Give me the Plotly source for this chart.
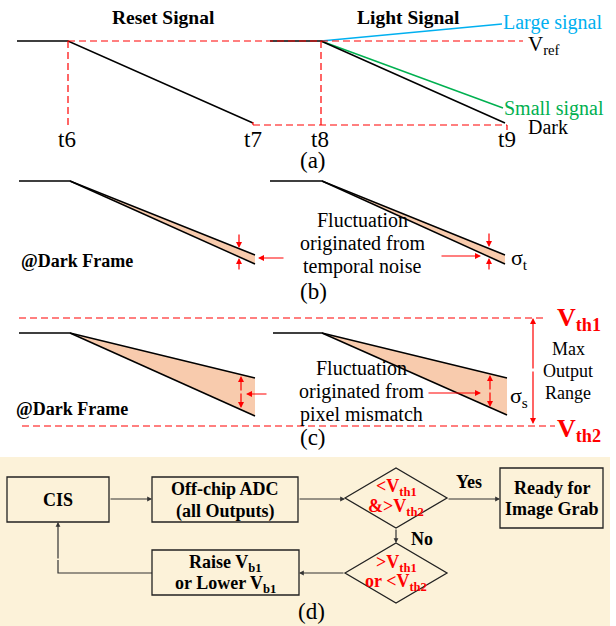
import plotly.graph_objects as go

W, H = 616, 626
SERIF = "Liberation Serif"
RED = "#ff0000"
BLUE = "#00b0f0"
GREEN = "#00b050"
PEACH = "#f8cbad"
BEIGE = "#fcf2d9"

# ---- panel (a): reset / light signal ramps (x = time, y = level, screen units) ----
reset_x = [17, 68, 253]
reset_y = [41, 41, 123]
light_flat_x = [270, 321]
light_flat_y = [41, 41]
dark_x = [321, 505]
dark_y = [41, 123]
small_x = [321, 503]
small_y = [41, 108]
large_x = [321, 502]
large_y = [41, 24]
time_labels = ["t6", "t7", "t8", "t9"]
time_pos = [67, 253, 320, 507]
vref_level = 41
ramp_end_level = 125

# ---- panel (b): temporal-noise spread (start point, end x, end top/bottom) ----
b_left = dict(x0=19, xk=70, y0=181, xe=255, top=255, bot=264)
b_right = dict(x0=270, xk=322, y0=181, xe=505, top=255, bot=264)

# ---- panel (c): pixel-mismatch spread ----
c_left = dict(x0=19, xk=70, y0=333, xe=255, top=378, bot=416)
c_right = dict(x0=273, xk=322, y0=333, xe=507, top=378, bot=415)
vth1_level = 318
vth2_level = 426

fig = go.Figure()
shapes = []
ann = []


def line(xs, ys, color="black", width=1.5):
    fig.add_trace(go.Scatter(x=xs, y=ys, mode="lines",
                             line=dict(color=color, width=width),
                             hoverinfo="skip", showlegend=False))


def dashed(x0, y0, x1, y1, color=RED):
    shapes.append(dict(type="line", x0=x0, y0=y0, x1=x1, y1=y1,
                       line=dict(color=color, width=1.2, dash="7px,4px")))


def text(x, y, s, size=20, color="black", xanchor="center", bold=False, family=SERIF):
    if bold:
        s = "<b>" + s + "</b>"
    ann.append(dict(x=x, y=y, text=s, showarrow=False, xanchor=xanchor, yanchor="middle",
                    font=dict(family=family, size=size, color=color)))


def arrow(x0, y0, x1, y1, color=RED, width=1.2, size=1.0):
    ann.append(dict(x=x1, y=y1, ax=x0, ay=y0, xref="x", yref="y", axref="x", ayref="y",
                    text="", showarrow=True, arrowhead=2, arrowsize=size, arrowwidth=width,
                    arrowcolor=color, standoff=0, startstandoff=0))


# panel (d) background
shapes.append(dict(type="rect", x0=0, x1=610, y0=457, y1=626, fillcolor=BEIGE,
                   line=dict(width=0), layer="below"))

# ---------------- panel (a) ----------------
dashed(68, vref_level, 523, vref_level)
dashed(68, vref_level, 68, ramp_end_level)
dashed(321, vref_level, 321, ramp_end_level)
dashed(253, ramp_end_level, 507, ramp_end_level)
dashed(507, ramp_end_level, 507, 130)
dashed(253, 122, 253, ramp_end_level)
line(reset_x, reset_y)
line(light_flat_x, light_flat_y)
line(large_x, large_y, BLUE)
line(small_x, small_y, GREEN)
line(dark_x, dark_y)

text(163, 17, "Reset Signal", 19.5, bold=True)
text(408, 17, "Light Signal", 19.5, bold=True)
text(501, 22, "Large signal", 20, BLUE, "left")
text(526, 45, "V<sub>ref</sub>", 21, xanchor="left")
text(502, 108, "Small signal", 20, GREEN, "left")
text(526, 127, "Dark", 20, xanchor="left")
for lab, xp in zip(time_labels, time_pos):
    text(xp, 139, lab, 23)
text(313, 160, "(a)", 23)


def wedge(p):
    fig.add_trace(go.Scatter(x=[p["xk"], p["xe"], p["xe"], p["xk"]],
                             y=[p["y0"], p["top"], p["bot"], p["y0"]],
                             mode="none", fill="toself", fillcolor=PEACH,
                             hoverinfo="skip", showlegend=False))
    line([p["x0"], p["xk"], p["xe"]], [p["y0"], p["y0"], p["top"]])
    line([p["xk"], p["xe"]], [p["y0"], p["bot"]])


# ---------------- panel (b) ----------------
wedge(b_left)
wedge(b_right)
arrow(239, 233, 239, 248)
arrow(239, 271, 239, 258)
arrow(285, 258, 258, 258)
arrow(489, 232, 489, 247)
arrow(489, 271, 489, 258)
arrow(440, 256, 481, 256)
text(19, 261, "@Dark Frame", 18, xanchor="left", bold=True)
text(362, 220, "Fluctuation", 20)
text(362, 243, "originated from", 20)
text(362, 266, "temporal noise", 20)
text(509, 259, "σ<sub>t</sub>", 22, xanchor="left")
text(313, 291, "(b)", 23)

# ---------------- panel (c) ----------------
dashed(19, vth1_level, 547, vth1_level)
dashed(22, vth2_level, 555, vth2_level)
wedge(c_left)
wedge(c_right)
arrow(241, 392, 241, 376)
arrow(241, 392, 241, 408)
arrow(268, 394, 246, 394)
arrow(490, 391, 490, 375)
arrow(490, 391, 490, 407)
arrow(427, 393, 481, 393)
arrow(533, 370, 533, 318)
arrow(533, 370, 533, 424)
text(14, 409, "@Dark Frame", 18, xanchor="left", bold=True)
text(361, 368, "Fluctuation", 20)
text(361, 391, "originated from", 20)
text(361, 414, "pixel mismatch", 20)
text(508, 397, "σ<sub>s</sub>", 22, xanchor="left")
text(568, 349, "Max", 18)
text(568, 371, "Output", 18)
text(568, 393, "Range", 18)
text(555, 319, "V<sub>th1</sub>", 26, RED, "left", bold=True)
text(555, 430, "V<sub>th2</sub>", 26, RED, "left", bold=True)
text(313, 437, "(c)", 23)

# ---------------- panel (d): flow chart ----------------
BOX = "#222222"
EDGE = "#333333"


def box(x0, y0, x1, y1):
    shapes.append(dict(type="rect", x0=x0, y0=y0, x1=x1, y1=y1,
                       line=dict(color=BOX, width=1.3), fillcolor="rgba(0,0,0,0)"))


def diamond(cx, cy, hw, hh):
    shapes.append(dict(type="path",
                       path=f"M {cx-hw} {cy} L {cx} {cy-hh} L {cx+hw} {cy} L {cx} {cy+hh} Z",
                       line=dict(color=BOX, width=1.3)))


box(7, 477, 109, 522)
box(152, 477, 298, 522)
box(500, 468, 603, 528)
box(152, 550, 299, 595)
diamond(396, 498, 51, 30)
diamond(396, 573, 51, 30)

arrow(109, 499, 152, 499, EDGE, size=0.8)
arrow(298, 499, 345, 499, EDGE, size=0.8)
arrow(447, 499, 500, 499, EDGE, size=0.8)
arrow(396, 528, 396, 543, EDGE, size=0.8)
arrow(345, 573, 299, 573, EDGE, size=0.8)
line([152, 58, 58], [573, 573, 560], EDGE, 1.2)
arrow(58, 560, 58, 522, EDGE, size=0.8)

text(58, 500, "CIS", 18, bold=True)
text(225, 489, "Off-chip ADC", 18, bold=True)
text(225, 511, "(all Outputs)", 18, bold=True)
text(552, 488, "Ready for", 18, bold=True)
text(552, 509, "Image Grab", 18, bold=True)
text(225, 563, "Raise V<sub>b1</sub>", 18, bold=True)
text(225, 584, "or Lower V<sub>b1</sub>", 18, bold=True)
text(469, 482, "Yes", 18, bold=True)
text(422, 539, "No", 18, bold=True)
text(396, 487, "&lt;V<sub>th1</sub>", 18, RED, bold=True)
text(396, 507, "&amp;&gt;V<sub>th2</sub>", 18, RED, bold=True)
text(396, 563, "&gt;V<sub>th1</sub>", 18, RED, bold=True)
text(396, 582, "or &lt;V<sub>th2</sub>", 18, RED, bold=True)
text(311, 611, "(d)", 23)

fig.update_layout(
    width=W, height=H, margin=dict(l=0, r=0, t=0, b=0),
    paper_bgcolor="white", plot_bgcolor="white",
    xaxis=dict(range=[0, W], visible=False, fixedrange=True),
    yaxis=dict(range=[H, 0], visible=False, fixedrange=True),
    shapes=shapes, annotations=ann, showlegend=False,
)
fig.write_html("out.html")
